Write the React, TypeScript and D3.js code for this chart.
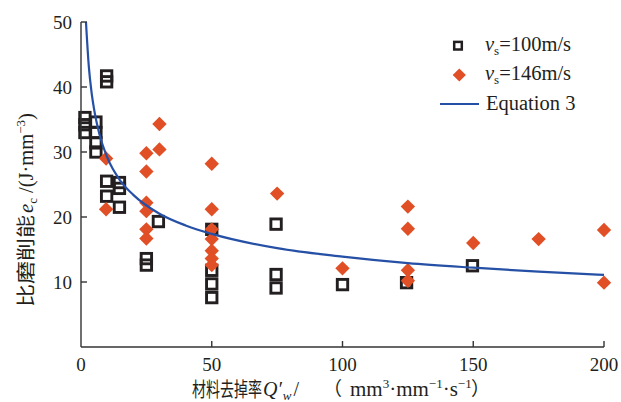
import React from "react";
import * as d3 from "d3";

// ---- data ----
const sq100X = [1.5, 1.5, 1.5, 5.7, 5.7, 5.7, 5.7, 9.8, 9.8, 9.8, 9.8, 14.7, 14.7, 14.7, 25, 25, 29.6, 50, 50, 50, 50, 74.6, 74.6, 74.6, 100, 124.5, 149.7];
const sq100Y = [35.3, 34.2, 33.0, 34.6, 33.0, 31.4, 30.0, 41.7, 40.8, 25.5, 23.2, 25.3, 24.4, 21.5, 13.6, 12.6, 19.3, 18.1, 11.8, 9.7, 7.6, 18.9, 11.15, 9.08, 9.6, 9.9, 12.5];

const d146X = [9.6, 9.6, 25, 25, 25, 25, 25, 25, 30, 30, 50, 50, 50, 50, 50, 50, 50, 75, 100, 125, 125, 125, 125, 150, 175, 200, 200];
const d146Y = [29.0, 21.2, 29.8, 27.0, 22.2, 20.9, 18.1, 16.7, 34.3, 30.4, 28.2, 21.2, 18.1, 16.6, 14.8, 13.6, 12.6, 23.6, 12.1, 21.6, 18.2, 11.8, 10.2, 16.0, 16.6, 18.0, 9.9];

const eqX = [1.9, 3, 4, 5, 7, 10, 15, 20, 30, 40, 50, 75, 100, 125, 150, 175, 200];
const eqY = [50.0, 43.1, 39.3, 36.6, 32.8, 29.2, 25.6, 23.4, 20.5, 18.7, 17.4, 15.2, 13.9, 12.9, 12.2, 11.6, 11.1];

const xTicks = [0, 50, 100, 150, 200];
const yTicks = [10, 20, 30, 40, 50];

const SERIF = "Liberation Serif, Noto Sans CJK SC, serif";
const CJK = "Noto Sans CJK SC, sans-serif";
const BLUE = "#2550a6";
const ORANGE = "#e04f26";
const INK = "#231f20";

export default function App() {
  const x = d3.scaleLinear().domain([0, 200]).range([81, 604]);
  const y = d3.scaleLinear().domain([0, 50]).range([347, 22]);
  const line = d3
    .line<number>()
    .x((_, i) => x(eqX[i]))
    .y((d) => y(d))
    .curve(d3.curveMonotoneX);

  const sq = 10.4;
  const dm = 7.2;
  const diamond = (cx: number, cy: number, r: number) =>
    `M${cx},${cy - r}L${cx + r},${cy}L${cx},${cy + r}L${cx - r},${cy}Z`;

  return (
    <svg
      width={621}
      height={402}
      style={{ position: "absolute", left: 0, top: 0, background: "#fff" }}
    >
      {/* squares */}
      {sq100X.map((v, i) => (
        <rect
          key={"s" + i}
          x={x(v) - sq / 2}
          y={y(sq100Y[i]) - sq / 2}
          width={sq}
          height={sq}
          fill="none"
          stroke={INK}
          strokeWidth={2.9}
        />
      ))}
      {/* diamonds */}
      {d146X.map((v, i) => (
        <path key={"d" + i} d={diamond(x(v), y(d146Y[i]), dm)} fill={ORANGE} />
      ))}
      {/* equation curve */}
      <path d={line(eqY) || ""} fill="none" stroke={BLUE} strokeWidth={2.2} />

      {/* axes */}
      <g stroke="#333" strokeWidth={1.4}>
        <line x1={x(0)} x2={x(0)} y1={y(50)} y2={y(0)} />
        <line x1={x(0)} x2={x(200)} y1={y(0)} y2={y(0)} />
        {yTicks.map((t) => (
          <line key={"yt" + t} x1={x(0)} x2={x(0) + 6} y1={y(t)} y2={y(t)} />
        ))}
        {xTicks.slice(1).map((t) => (
          <line key={"xt" + t} x1={x(t)} x2={x(t)} y1={y(0)} y2={y(0) - 6} />
        ))}
      </g>
      <g fontSize={19} fill="#231f20" fontFamily={SERIF}>
        {yTicks.map((t) => (
          <text key={"yl" + t} x={72} y={y(t)} dy="0.35em" textAnchor="end">
            {t}
          </text>
        ))}
        {xTicks.map((t) => (
          <text key={"xl" + t} x={x(t)} y={371} textAnchor="middle">
            {t}
          </text>
        ))}
      </g>

      {/* x title */}
      <g fill="#231f20">
        <text x={192} y={397} fontSize={20} fontFamily={CJK} textLength={70} lengthAdjust="spacingAndGlyphs">
          材料去掉率
        </text>
        <text x={263} y={396} fontSize={20} fontFamily={SERIF}>
          <tspan fontStyle="italic">Q′</tspan>
          <tspan fontSize={13} dy={4} dx={1} fontStyle="italic">w</tspan>
          <tspan dy={-4} dx={2}>/</tspan>
        </text>
        <text x={323} y={396} fontSize={19} fontFamily={CJK}>（</text>
        <text x={350} y={396} fontSize={21} fontFamily={SERIF}>
          mm
          <tspan fontSize={13} dy={-8}>3</tspan>
          <tspan dy={8}>·mm</tspan>
          <tspan fontSize={13} dy={-8}>−1</tspan>
          <tspan dy={8}>·s</tspan>
          <tspan fontSize={13} dy={-8}>−1</tspan>
        </text>
        <text x={471} y={396} fontSize={19} fontFamily={CJK}>）</text>
      </g>

      {/* y title */}
      <g transform="translate(33,307) rotate(-90)" fill="#231f20">
        <text x={0} y={0} fontSize={19} fontFamily={CJK} textLength={92} lengthAdjust="spacingAndGlyphs">
          比磨削能
        </text>
        <text x={94} y={0} fontSize={21} fontFamily={SERIF}>
          <tspan fontStyle="italic">e</tspan>
          <tspan fontSize={13} dy={4}>c</tspan>
        </text>
        <text x={114} y={0} fontSize={20.5} fontFamily={SERIF}>
          /(J·mm
          <tspan fontSize={13} dy={-8}>−3</tspan>
          <tspan dy={8}>)</tspan>
        </text>
      </g>

      {/* legend */}
      <rect x={458 - 3.8} y={45.7 - 3.8} width={7.6} height={7.6} fill="none" stroke={INK} strokeWidth={2.5} />
      <path d={diamond(459.3, 75, 6.6)} fill={ORANGE} />
      <line x1={440} x2={479} y1={104} y2={104} stroke={BLUE} strokeWidth={2.2} />
      <g fontSize={20.5} fill="#231f20" fontFamily={SERIF}>
        <text x={485} y={51}>
          <tspan fontStyle="italic">v</tspan>
          <tspan fontSize={13} dy={4}>s</tspan>
          <tspan dy={-4}>=100m/s</tspan>
        </text>
        <text x={485} y={80}>
          <tspan fontStyle="italic">v</tspan>
          <tspan fontSize={13} dy={4}>s</tspan>
          <tspan dy={-4}>=146m/s</tspan>
        </text>
        <text x={486} y={110}>Equation 3</text>
      </g>
    </svg>
  );
}
